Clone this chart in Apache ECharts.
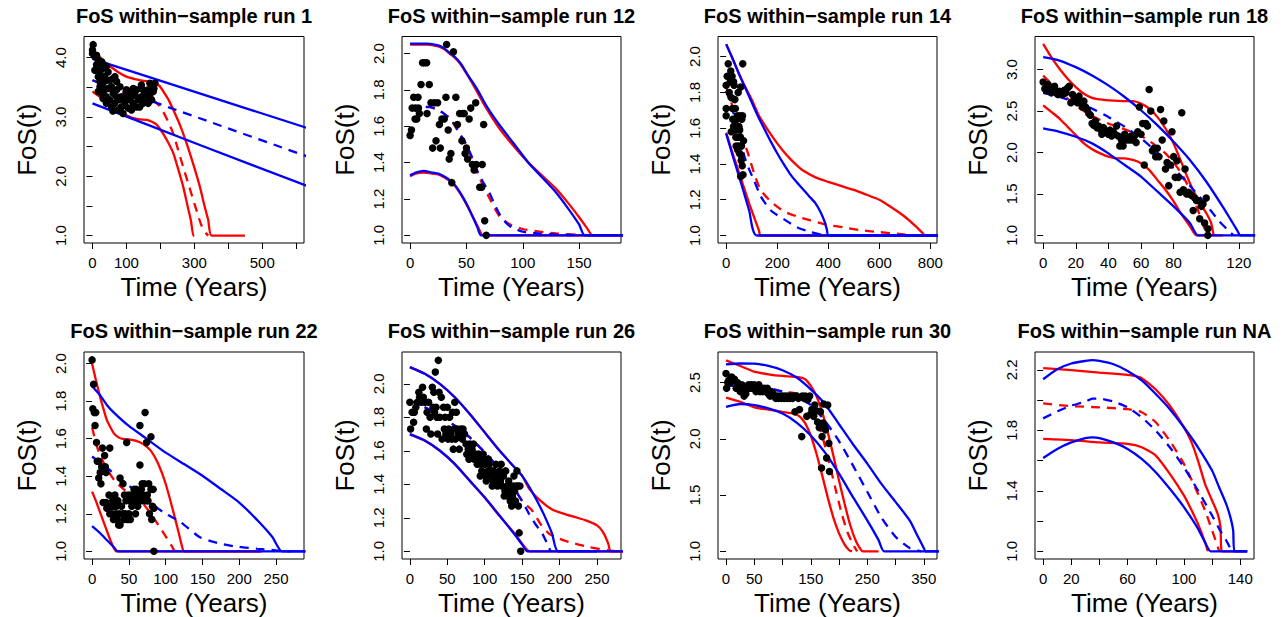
<!DOCTYPE html>
<html>
<head>
<meta charset="utf-8">
<script src="https://cdn.jsdelivr.net/npm/echarts@6/dist/echarts.min.js"></script>
<style>
html, body { margin: 0; background: #fff; }
#chart { width: 1286px; height: 617px; }
</style>
</head>
<body>
<div id="chart"></div>
<script>
const titles = ['FoS within\u2212sample run 1', 'FoS within\u2212sample run 12', 'FoS within\u2212sample run 14', 'FoS within\u2212sample run 18',
	'FoS within\u2212sample run 22', 'FoS within\u2212sample run 26', 'FoS within\u2212sample run 30', 'FoS within\u2212sample run NA'];

// run 1
const run1Obs = [[2,4.22],[0,4.13],[0,4.07],[7,4.02],[12,4.04],[17,3.96],[27,3.93],[22,3.85],[12,3.88],[7,3.79],[22,3.76],[31,3.82],[41,3.85],[46,3.76],[36,3.68],[17,3.68],[22,3.6],[31,3.57],[41,3.62],[51,3.62],[61,3.65],[71,3.6],[66,3.68],[22,3.51],[17,3.43],[27,3.4],[36,3.46],[46,3.48],[56,3.51],[31,3.31],[41,3.34],[51,3.29],[61,3.4],[71,3.46],[81,3.51],[41,3.23],[56,3.17],[66,3.23],[76,3.12],[85,3.17],[95,3.29],[85,3.34],[100,3.4],[105,3.29],[115,3.34],[90,3.06],[105,3.15],[120,3.23],[125,3.37],[130,3.46],[135,3.29],[139,3.17],[144,3.34],[149,3.23],[154,3.4],[159,3.29],[164,3.46],[169,3.37],[174,3.51],[179,3.43],[184,3.57],[181,3.48],[144,3.54],[115,3.12],[130,3.17],[81,3.29],[71,3.34],[100,3.46],[110,3.43],[120,3.48],[149,3.46],[164,3.23],[174,3.29],[169,3.57],[60,3.1],[95,3.2]];
const run1RedHi = [[0,4.1],[12,4.07],[30,3.96],[51,3.86],[75,3.76],[100,3.68],[125,3.64],[150,3.61],[170,3.6],[185,3.57],[198,3.52],[210,3.42],[225,3.28],[238,3.12],[258,2.86],[277,2.56],[297,2.2],[316,1.83],[330,1.5],[341,1.26],[351,1.0],[449,1.0]];
const run1RedMid = [[0,3.62],[30,3.55],[60,3.49],[100,3.4],[140,3.33],[179,3.28],[195,3.2],[208,3.09],[223,2.92],[238,2.72],[252,2.45],[267,2.16],[282,1.88],[297,1.6],[310,1.36],[321,1.17],[333,1.05],[341,1.0]];
const run1RedLo = [[0,3.43],[22,3.34],[40,3.25],[61,3.17],[80,3.09],[100,3.03],[120,2.98],[139,2.96],[160,2.95],[175,2.92],[189,2.87],[200,2.79],[208,2.72],[223,2.57],[238,2.39],[252,2.13],[267,1.83],[280,1.5],[290,1.25],[297,1.0],[300,1.0]];
const run1BlueHi = [[0,3.98],[320,3.39],[640,2.8]];
const run1BlueMid = [[0,3.62],[320,2.97],[640,2.32]];
const run1BlueLo = [[0,3.23],[320,2.52],[640,1.82]];

// run 12
const run12Obs = [[0,1.55],[1.2,1.58],[1.8,1.7],[3.2,1.76],[4.7,1.7],[4.4,1.64],[5.9,1.64],[7,1.76],[7.4,1.7],[8.2,1.67],[9.7,1.83],[11,1.95],[12.6,1.95],[14.7,1.95],[15,1.67],[17,1.83],[18.5,1.73],[20,1.48],[21.5,1.73],[23,1.52],[24.4,1.73],[26,1.61],[26.8,1.48],[28.2,1.64],[30.3,1.64],[31.8,1.76],[32.4,2.05],[33.8,1.58],[34.7,1.42],[36.2,1.45],[37,1.29],[38.5,2.01],[40.6,1.76],[42,1.61],[44,1.67],[46,1.52],[46.5,1.67],[48,1.67],[48.8,1.45],[50,1.48],[51,1.42],[52.4,1.64],[53.8,1.7],[55.3,1.39],[56.8,1.36],[58.2,1.73],[58.8,1.39],[61.8,1.265],[63.5,1.265],[64,1.39],[65.3,1.61],[66.2,1.08],[67.6,1.0]];
const run12RedHi = [[0,2.05],[15,2.05],[25,2.04],[30,2.025],[35,2.0],[40,1.975],[45,1.94],[52,1.87],[59,1.795],[68,1.695],[79,1.59],[92,1.49],[105,1.4],[117,1.33],[129,1.26],[140,1.18],[150,1.1],[157,1.04],[162,1.0],[190,1.0]];
const run12RedMid = [[0,1.7],[10,1.71],[18,1.705],[25,1.69],[30,1.67],[35,1.645],[40,1.6],[45,1.545],[50,1.49],[55,1.42],[60,1.34],[65,1.27],[70,1.21],[75,1.15],[80,1.1],[90,1.055],[100,1.035],[115,1.02],[130,1.01],[150,1.003],[165,1.0]];
const run12RedLo = [[0,1.325],[5,1.34],[12,1.345],[20,1.34],[25,1.335],[30,1.32],[35,1.3],[40,1.27],[45,1.225],[50,1.17],[55,1.11],[60,1.05],[63,1.01],[65,1.0],[190,1.0]];
const run12BlueHi = [[0,2.055],[15,2.055],[25,2.045],[30,2.03],[35,2.005],[40,1.98],[45,1.945],[52,1.875],[59,1.81],[68,1.71],[79,1.61],[92,1.505],[105,1.4],[117,1.32],[129,1.24],[140,1.15],[150,1.06],[155,1.0],[190,1.0]];
const run12BlueMid = [[0,1.69],[10,1.705],[18,1.705],[25,1.69],[30,1.67],[35,1.645],[40,1.605],[45,1.55],[50,1.5],[55,1.43],[60,1.35],[65,1.29],[70,1.24],[75,1.17],[80,1.11],[85,1.07],[90,1.045],[100,1.02],[115,1.01],[130,1.004],[150,1.0]];
const run12BlueLo = [[0,1.33],[5,1.345],[12,1.355],[20,1.345],[25,1.34],[30,1.325],[35,1.305],[40,1.275],[45,1.23],[50,1.175],[55,1.11],[60,1.04],[63,1.0],[190,1.0]];

// run 14
const run14Obs = [[0,1.71],[0,1.67],[0,1.84],[4,1.89],[8,1.96],[12,1.8],[16,1.86],[18,1.92],[21,1.77],[23,1.89],[25,1.71],[26,1.65],[29,1.61],[29,1.86],[31,1.84],[34,1.76],[35,1.59],[36,1.71],[39,1.5],[40,1.65],[42,1.61],[44,1.67],[46,1.55],[47,1.8],[48,1.5],[50,1.61],[52,1.46],[53,1.59],[55,1.67],[56,1.55],[57,1.83],[59,1.42],[60,1.5],[61,1.65],[63,1.39],[64,1.67],[65,1.96],[66,1.34],[68,1.53],[57,1.33],[20,1.58],[33,1.64],[45,1.48],[38,1.55],[58,1.45]];
const run14RedHi = [[0,2.07],[25,1.99],[50,1.905],[75,1.83],[100,1.76],[125,1.68],[150,1.62],[175,1.565],[200,1.515],[225,1.47],[250,1.43],[275,1.395],[300,1.365],[350,1.325],[400,1.3],[450,1.277],[500,1.255],[550,1.228],[600,1.2],[650,1.155],[700,1.105],[740,1.055],[765,1.02],[780,1.0],[830,1.0]];
const run14RedMid = [[0,1.83],[30,1.7],[60,1.56],[83,1.47],[109,1.35],[135,1.255],[175,1.19],[227,1.134],[279,1.106],[331,1.084],[396,1.06],[461,1.045],[526,1.03],[592,1.02],[670,1.01],[740,1.0]];
const run14RedLo = [[0,1.575],[30,1.44],[60,1.31],[90,1.18],[115,1.08],[128,1.03],[135,1.0],[830,1.0]];
const run14BlueHi = [[0,2.07],[25,1.99],[50,1.905],[75,1.825],[100,1.745],[125,1.665],[150,1.595],[175,1.525],[200,1.46],[225,1.4],[250,1.345],[275,1.3],[300,1.26],[325,1.22],[350,1.18],[370,1.13],[385,1.08],[395,1.03],[400,1.0],[830,1.0]];
const run14BlueMid = [[0,1.81],[30,1.68],[57,1.55],[70,1.45],[90,1.37],[109,1.31],[135,1.22],[175,1.14],[227,1.09],[279,1.045],[331,1.02],[383,1.0]];
const run14BlueLo = [[0,1.57],[30,1.425],[60,1.285],[90,1.14],[120,1.0],[830,1.0]];

// run 18
const run18Obs = [[0,2.85],[1,2.77],[2,2.75],[3,2.82],[4,2.79],[5,2.72],[6,2.75],[7,2.8],[8,2.72],[9,2.7],[10,2.74],[11,2.72],[12,2.7],[13,2.75],[14,2.72],[15,2.78],[16,2.8],[17,2.6],[18,2.7],[19,2.65],[20,2.62],[21,2.6],[22,2.68],[23,2.62],[24,2.55],[25,2.62],[26,2.55],[27,2.52],[28,2.47],[29,2.45],[30,2.35],[31,2.33],[32,2.38],[33,2.3],[34,2.32],[35,2.28],[36,2.22],[37,2.3],[38,2.27],[39,2.25],[40,2.22],[41,2.27],[42,2.2],[43,2.25],[44,2.22],[45,2.32],[46,2.2],[47,2.08],[48,2.15],[49,2.08],[50,2.22],[51,2.15],[52,2.18],[53,2.15],[54,2.2],[55,2.15],[56,2.2],[57,2.12],[58,2.25],[59,2.55],[60,2.22],[61,2.35],[62,1.85],[63,2.35],[64,2.32],[65,2.76],[66,2.5],[67,2.02],[68,2.05],[69,1.95],[70,2.05],[71,1.95],[72,2.52],[73,2.15],[74,2.38],[75,1.8],[76,1.88],[77,1.6],[78,1.85],[79,2.25],[80,1.95],[81,1.7],[82,1.9],[83,1.7],[84,1.52],[85,2.48],[86,1.55],[87,1.8],[88,1.5],[89,1.52],[90,1.5],[91,1.48],[92,1.3],[93,1.45],[94,1.42],[95,1.42],[96,1.2],[97,1.35],[98,1.38],[99,1.15],[100,1.45],[101,1.08],[101,1.0]];
const run18RedHi = [[0,3.31],[5,3.15],[10,3.01],[15,2.89],[20,2.79],[25,2.71],[30,2.66],[35,2.64],[40,2.63],[50,2.62],[55,2.62],[60,2.59],[65,2.53],[70,2.43],[75,2.29],[80,2.11],[85,1.87],[90,1.63],[95,1.43],[100,1.27],[103,1.15],[104.5,1.0]];
const run18RedMid = [[0,2.93],[5,2.83],[10,2.74],[15,2.65],[20,2.57],[25,2.5],[30,2.44],[40,2.35],[50,2.28],[60,2.2],[65,2.14],[70,2.07],[75,1.99],[80,1.88],[85,1.74],[90,1.55],[95,1.3],[99,1.08],[101,1.0]];
const run18RedLo = [[0,2.57],[5,2.49],[10,2.41],[15,2.31],[20,2.21],[25,2.11],[30,2.04],[35,1.99],[40,1.95],[45,1.93],[50,1.93],[55,1.91],[60,1.87],[65,1.79],[70,1.67],[75,1.55],[80,1.41],[85,1.25],[90,1.11],[94,1.0],[110,1.0]];
const run18BlueHi = [[0,3.15],[10,3.11],[20,3.03],[30,2.93],[40,2.81],[50,2.67],[60,2.51],[70,2.33],[80,2.13],[90,1.91],[100,1.65],[110,1.35],[115,1.19],[119,1.06],[121,1.0],[130,1.0]];
const run18BlueMid = [[0,2.72],[10,2.67],[20,2.61],[30,2.53],[40,2.43],[50,2.31],[60,2.17],[70,2.0],[80,1.81],[90,1.6],[100,1.37],[108,1.17],[114,1.05],[117,1.0]];
const run18BlueLo = [[0,2.29],[10,2.25],[20,2.19],[30,2.11],[40,1.99],[50,1.85],[60,1.71],[70,1.53],[80,1.35],[90,1.15],[95,1.0],[130,1.0]];

// run 22
const run22Obs = [[0,2.02],[2,1.89],[1,1.76],[3,1.74],[5,1.74],[4,1.67],[6,1.58],[7,1.48],[9,1.48],[9,1.39],[11,1.42],[13,1.45],[12,1.36],[14,1.55],[17,1.51],[18,1.45],[19,1.42],[15,1.26],[19,1.26],[21,1.23],[24,1.55],[20,1.23],[24,1.2],[23,1.3],[26,1.24],[27,1.2],[28,1.27],[29,1.17],[30,1.24],[31,1.3],[32,1.2],[33,1.24],[34,1.17],[35,1.27],[36,1.14],[37,1.2],[38,1.14],[38,1.39],[40,1.24],[42,1.36],[42,1.2],[43,1.17],[44,1.3],[45,1.2],[46,1.27],[47,1.58],[48,1.17],[49,1.3],[50,1.2],[51,1.27],[52,1.17],[53,1.3],[54,1.24],[55,1.27],[56,1.3],[57,1.33],[58,1.27],[59,1.2],[60,1.33],[61,1.27],[62,1.24],[63,1.3],[65,1.46],[65,1.67],[66,1.27],[67,1.33],[68,1.36],[69,1.3],[70,1.27],[71,1.36],[72,1.74],[74,1.58],[74,1.27],[75,1.3],[76,1.27],[77,1.36],[78,1.2],[80,1.61],[80,1.33],[81,1.17],[82,1.24],[83,1.33],[84,1.23],[84,1.0]];
const run22RedHi = [[0,2.0],[5,1.915],[10,1.836],[15,1.765],[20,1.7],[25,1.66],[30,1.627],[35,1.61],[40,1.6],[50,1.597],[60,1.588],[70,1.57],[80,1.535],[90,1.465],[100,1.36],[110,1.217],[118,1.094],[122,1.03],[125,1.0],[230,1.0]];
const run22RedMid = [[0,1.66],[5,1.58],[10,1.52],[20,1.44],[30,1.38],[40,1.34],[50,1.31],[60,1.28],[70,1.25],[80,1.2],[90,1.14],[100,1.08],[108,1.03],[112,1.0]];
const run22RedLo = [[0,1.318],[5,1.27],[10,1.217],[15,1.164],[20,1.11],[25,1.058],[30,1.014],[33,1.0],[230,1.0]];
const run22BlueHi = [[0,1.88],[10,1.836],[20,1.78],[30,1.738],[50,1.668],[75,1.597],[100,1.526],[125,1.465],[150,1.403],[175,1.332],[200,1.26],[225,1.164],[245,1.076],[258,1.0],[290,1.0]];
const run22BlueMid = [[0,1.505],[10,1.475],[25,1.43],[50,1.35],[75,1.27],[100,1.2],[119,1.16],[146,1.076],[170,1.045],[192,1.027],[224,1.014],[250,1.005],[270,1.0]];
const run22BlueLo = [[0,1.134],[10,1.1],[20,1.06],[30,1.02],[35,1.0],[290,1.0]];

// run 26
const run26Obs = [[0,1.89],[1,1.73],[3,1.83],[5,1.77],[6,1.83],[8,1.86],[10,1.89],[12,1.95],[13,1.92],[15,1.89],[17,1.98],[18,1.92],[20,1.89],[22,1.73],[23,1.83],[25,1.89],[27,1.8],[28,1.7],[30,1.98],[31,1.86],[32,1.95],[33,1.83],[34,2.07],[35,1.86],[36,1.8],[37,1.7],[38,2.14],[39,1.95],[40,1.8],[42,1.92],[43,1.67],[45,1.86],[46,1.73],[47,1.8],[48,1.7],[50,1.86],[51,1.67],[52,1.73],[53,1.8],[55,1.7],[56,1.67],[57,1.83],[58,1.61],[59,1.73],[60,1.89],[61,1.67],[62,1.83],[63,1.73],[65,1.7],[66,1.61],[68,1.73],[70,1.67],[71,1.73],[73,1.7],[75,1.64],[76,1.58],[78,1.61],[79,1.55],[80,1.64],[82,1.58],[83,1.61],[85,1.64],[86,1.55],[88,1.58],[89,1.55],[90,1.52],[92,1.58],[93,1.55],[94,1.45],[95,1.52],[96,1.48],[98,1.58],[99,1.55],[100,1.52],[101,1.45],[102,1.42],[104,1.48],[105,1.55],[106,1.52],[108,1.45],[109,1.48],[110,1.39],[111,1.42],[112,1.48],[113,1.45],[115,1.52],[116,1.42],[117,1.39],[118,1.45],[120,1.48],[121,1.42],[122,1.52],[123,1.39],[125,1.45],[126,1.33],[127,1.36],[128,1.48],[130,1.39],[131,1.33],[132,1.42],[133,1.36],[134,1.3],[135,1.36],[136,1.27],[137,1.33],[138,1.39],[139,1.45],[140,1.36],[141,1.3],[142,1.39],[143,1.48],[144,1.39],[145,1.27],[146,1.11],[147,1.39],[148,1.0]];
const run26RedHi = [[0,2.1],[20,2.06],[40,2.0],[60,1.92],[80,1.82],[100,1.71],[120,1.6],[140,1.5],[150,1.45],[160,1.37],[175,1.3],[190,1.25],[205,1.225],[220,1.205],[235,1.185],[250,1.155],[258,1.115],[265,1.046],[268,1.0],[285,1.0]];
const run26RedMid = [[0,1.9],[20,1.86],[40,1.81],[60,1.75],[80,1.68],[100,1.59],[120,1.49],[140,1.37],[150,1.3],[163,1.245],[175,1.16],[186,1.105],[200,1.075],[212,1.056],[239,1.026],[265,1.005],[275,1.0]];
const run26RedLo = [[0,1.698],[20,1.66],[40,1.6],[60,1.52],[80,1.42],[100,1.32],[120,1.21],[140,1.105],[150,1.045],[160,1.0],[285,1.0]];
const run26BlueHi = [[0,2.1],[20,2.06],[40,2.0],[60,1.92],[80,1.82],[100,1.71],[120,1.6],[140,1.5],[150,1.45],[160,1.38],[170,1.3],[180,1.21],[190,1.105],[198,1.0],[285,1.0]];
const run26BlueMid = [[0,1.9],[20,1.86],[40,1.81],[60,1.75],[80,1.68],[100,1.59],[120,1.49],[140,1.37],[150,1.3],[159,1.225],[168,1.16],[177,1.105],[185,1.03],[188,1.0]];
const run26BlueLo = [[0,1.7],[20,1.662],[40,1.602],[60,1.522],[80,1.422],[100,1.322],[120,1.212],[140,1.1],[150,1.04],[157,1.0],[250,1.0]];

// run 30
const run30Obs = [[0,2.58],[1,2.45],[3,2.5],[5,2.52],[8,2.5],[10,2.55],[12,2.52],[15,2.53],[18,2.45],[20,2.5],[23,2.45],[25,2.42],[28,2.48],[30,2.45],[32,2.38],[35,2.4],[38,2.45],[40,2.48],[43,2.45],[45,2.48],[48,2.45],[50,2.48],[53,2.42],[55,2.45],[58,2.48],[60,2.42],[63,2.45],[65,2.42],[68,2.45],[70,2.42],[73,2.45],[75,2.4],[78,2.38],[80,2.42],[83,2.4],[85,2.38],[88,2.36],[90,2.38],[93,2.36],[95,2.38],[98,2.36],[100,2.38],[103,2.36],[105,2.38],[108,2.36],[110,2.38],[113,2.36],[115,2.38],[118,2.36],[120,2.38],[122,2.24],[125,2.38],[130,2.26],[128,2.36],[134,2.02],[135,2.38],[138,2.36],[140,2.38],[143,2.2],[145,2.35],[148,2.38],[150,2.22],[152,2.26],[155,2.2],[157,2.3],[160,2.25],[162,2.15],[165,2.1],[167,2.24],[169,1.74],[170,2.02],[172,2.14],[173,2.31],[174,2.1],[178,1.83],[176,2.08],[180,2.3],[182,1.96],[183,1.71]];
const run30RedHi = [[0,2.698],[25,2.648],[50,2.597],[75,2.574],[100,2.559],[125,2.55],[140,2.53],[150,2.47],[160,2.38],[170,2.24],[180,2.06],[190,1.85],[200,1.63],[210,1.42],[220,1.23],[230,1.09],[238,1.02],[242,1.0],[270,1.0]];
const run30RedMid = [[0,2.53],[50,2.47],[100,2.42],[130,2.4],[145,2.36],[155,2.27],[165,2.12],[175,1.94],[185,1.74],[195,1.53],[205,1.33],[215,1.17],[225,1.06],[232,1.0]];
const run30RedLo = [[0,2.367],[25,2.33],[50,2.28],[75,2.26],[100,2.24],[120,2.225],[130,2.2],[140,2.14],[150,2.03],[160,1.87],[170,1.68],[180,1.48],[190,1.3],[200,1.16],[210,1.06],[218,1.01],[223,1.0]];
const run30BlueHi = [[0,2.662],[25,2.67],[50,2.668],[75,2.648],[100,2.61],[125,2.545],[150,2.44],[175,2.31],[200,2.13],[225,1.95],[250,1.78],[275,1.6],[300,1.44],[325,1.275],[340,1.127],[350,1.03],[353,1.0],[380,1.0]];
const run30BlueMid = [[0,2.47],[50,2.48],[100,2.42],[125,2.37],[150,2.3],[175,2.16],[200,1.98],[225,1.76],[250,1.53],[275,1.3],[300,1.13],[325,1.03],[345,1.0]];
const run30BlueLo = [[0,2.284],[25,2.31],[50,2.3],[75,2.27],[100,2.225],[125,2.145],[150,2.03],[175,1.88],[200,1.69],[225,1.48],[250,1.275],[270,1.1],[280,1.0],[380,1.0]];

// run NA (no observations)
const runNAObs = [];
const runNARedHi = [[0,2.211],[20,2.198],[40,2.182],[60,2.167],[65,2.16],[70,2.145],[80,2.07],[90,1.963],[100,1.82],[105,1.73],[110,1.6],[115,1.446],[120,1.336],[124,1.248],[126,1.16],[127,1.0],[145,1.0]];
const runNARedMid = [[0,1.978],[20,1.96],[40,1.952],[60,1.94],[70,1.92],[80,1.853],[90,1.73],[100,1.578],[110,1.38],[115,1.27],[120,1.14],[124,1.03],[125,1.0]];
const runNARedLo = [[0,1.743],[20,1.735],[40,1.72],[60,1.71],[70,1.688],[80,1.633],[90,1.512],[100,1.37],[105,1.28],[110,1.18],[115,1.06],[117,1.0]];
const runNABlueHi = [[0,2.138],[10,2.204],[20,2.242],[30,2.259],[35,2.264],[40,2.259],[50,2.237],[60,2.193],[70,2.13],[80,2.04],[90,1.94],[100,1.82],[110,1.688],[120,1.534],[125,1.424],[130,1.314],[133,1.226],[135,1.138],[136,1.0],[145,1.0]];
const runNABlueMid = [[0,1.879],[10,1.925],[20,1.963],[30,1.99],[35,2.01],[40,2.01],[50,1.99],[60,1.952],[70,1.886],[80,1.798],[90,1.688],[100,1.556],[110,1.402],[120,1.237],[125,1.15],[130,1.073],[134,1.0]];
const runNABlueLo = [[0,1.617],[10,1.677],[20,1.72],[30,1.749],[35,1.754],[40,1.749],[50,1.72],[60,1.677],[70,1.611],[80,1.523],[90,1.413],[100,1.292],[110,1.15],[116,1.04],[119,1.0],[145,1.0]];

// axis ranges and ticks, in panel order
const xLims = [[-25, 623], [-7.2, 187.2], [-32, 826], [-5, 129.3], [-11, 288], [-10.5, 282], [-14.2, 373.4], [-5.8, 149.8]];
const yLims = [[0.876, 4.357], [0.958, 2.094], [0.958, 2.113], [0.908, 3.4], [0.959, 2.062], [0.954, 2.19], [0.932, 2.772], [0.949, 2.318]];
const xTicks = [[0,100,200,300,400,500,600], [0,50,100,150], [0,200,400,600,800], [0,20,40,60,80,100,120],
	[0,50,100,150,200,250], [0,50,100,150,200,250], [0,50,100,150,200,250,300,350], [0,20,40,60,80,100,120,140]];
const xLabels = [[0,100,300,500], [0,50,100,150], [0,200,400,600,800], [0,20,40,60,80,120],
	[0,50,100,150,200,250], [0,50,100,150,200,250], [0,50,150,250,350], [0,20,60,100,140]];
const yTicks = [[1,1.5,2,2.5,3,3.5,4], [1,1.2,1.4,1.6,1.8,2], [1,1.2,1.4,1.6,1.8,2], [1,1.5,2,2.5,3],
	[1,1.2,1.4,1.6,1.8,2], [1,1.2,1.4,1.6,1.8,2], [1,1.5,2,2.5], [1,1.2,1.4,1.6,1.8,2,2.2]];
const yLabels = [[1,2,3,4], [1,1.2,1.4,1.6,1.8,2], [1,1.2,1.4,1.6,1.8,2], [1,1.5,2,2.5,3],
	[1,1.2,1.4,1.6,1.8,2], [1,1.2,1.4,1.6,1.8,2], [1,1.5,2,2.5], [1,1.4,1.8,2.2]];

const runs = [
	[run1Obs, run1RedHi, run1RedMid, run1RedLo, run1BlueHi, run1BlueMid, run1BlueLo],
	[run12Obs, run12RedHi, run12RedMid, run12RedLo, run12BlueHi, run12BlueMid, run12BlueLo],
	[run14Obs, run14RedHi, run14RedMid, run14RedLo, run14BlueHi, run14BlueMid, run14BlueLo],
	[run18Obs, run18RedHi, run18RedMid, run18RedLo, run18BlueHi, run18BlueMid, run18BlueLo],
	[run22Obs, run22RedHi, run22RedMid, run22RedLo, run22BlueHi, run22BlueMid, run22BlueLo],
	[run26Obs, run26RedHi, run26RedMid, run26RedLo, run26BlueHi, run26BlueMid, run26BlueLo],
	[run30Obs, run30RedHi, run30RedMid, run30RedLo, run30BlueHi, run30BlueMid, run30BlueLo],
	[runNAObs, runNARedHi, runNARedMid, runNARedLo, runNABlueHi, runNABlueMid, runNABlueLo]
];

// plot boxes: left, top, width, height
const boxes = [
	[84, 36.5, 220, 206.5], [402, 36.5, 219, 206.5], [718, 36.5, 219, 206.5], [1035, 36.5, 219, 206.5],
	[84, 352, 220, 208], [402, 352, 219, 208], [718, 352, 219, 208], [1035, 352, 219, 208]
];

const FONT = '"Liberation Sans", Arial, Helvetica, sans-serif';
const RED = '#ff0000';
const BLUE = '#0000ff';

function curve(i, data, color, dashed) {
	return {
		type: 'line', xAxisIndex: i, yAxisIndex: i, data: data,
		showSymbol: false, symbol: 'none', smooth: 0.2, silent: true, animation: false,
		z: color === BLUE ? 3 : 2,
		lineStyle: { color: color, width: 2.3, type: dashed ? [9, 7] : 'solid' }
	};
}

const grids = [], xAxes = [], yAxes = [], series = [], texts = [];

boxes.forEach(function (b, i) {
	grids.push({ left: b[0], top: b[1], width: b[2], height: b[3], show: true,
		borderColor: '#000', borderWidth: 1, backgroundColor: 'transparent' });

	xAxes.push({
		gridIndex: i, type: 'value', min: xLims[i][0], max: xLims[i][1],
		axisLine: { show: false }, splitLine: { show: false },
		axisTick: { show: true, customValues: xTicks[i], length: 6, lineStyle: { color: '#000', width: 1 } },
		axisLabel: { customValues: xLabels[i], color: '#000', fontSize: 15, fontFamily: FONT, margin: 12 },
		name: 'Time (Years)', nameLocation: 'middle', nameGap: 31,
		nameTextStyle: { color: '#000', fontSize: 26, fontFamily: FONT }
	});
	yAxes.push({
		gridIndex: i, type: 'value', min: yLims[i][0], max: yLims[i][1],
		axisLine: { show: false }, splitLine: { show: false },
		axisTick: { show: true, customValues: yTicks[i], length: 6, lineStyle: { color: '#000', width: 1 } },
		axisLabel: { customValues: yLabels[i], color: '#000', fontSize: 15, fontFamily: FONT, margin: 16, rotate: 90,
			formatter: function (v) { return v.toFixed(1); } },
		name: 'FoS(t)', nameLocation: 'middle', nameGap: 44, nameRotate: 90,
		nameTextStyle: { color: '#000', fontSize: 26, fontFamily: FONT }
	});

	const r = runs[i];
	series.push(curve(i, r[1], RED, false), curve(i, r[2], RED, true), curve(i, r[3], RED, false));
	series.push(curve(i, r[4], BLUE, false), curve(i, r[5], BLUE, true), curve(i, r[6], BLUE, false));
	series.push({ type: 'scatter', xAxisIndex: i, yAxisIndex: i, data: r[0], symbolSize: 7.5,
		itemStyle: { color: '#000', opacity: 1 }, silent: true, animation: false, z: 4 });

	texts.push({ type: 'text', x: b[0] + b[2] / 2, y: b[1] - 21,
		style: { text: titles[i], fill: '#000', fontSize: 20, fontWeight: 'bold', fontFamily: FONT,
			align: 'center', verticalAlign: 'middle' } });
});

const chart = echarts.init(document.getElementById('chart'), null, { renderer: 'svg' });
chart.setOption({
	backgroundColor: '#fff',
	animation: false,
	grid: grids,
	xAxis: xAxes,
	yAxis: yAxes,
	series: series,
	graphic: texts
});
</script>
</body>
</html>
